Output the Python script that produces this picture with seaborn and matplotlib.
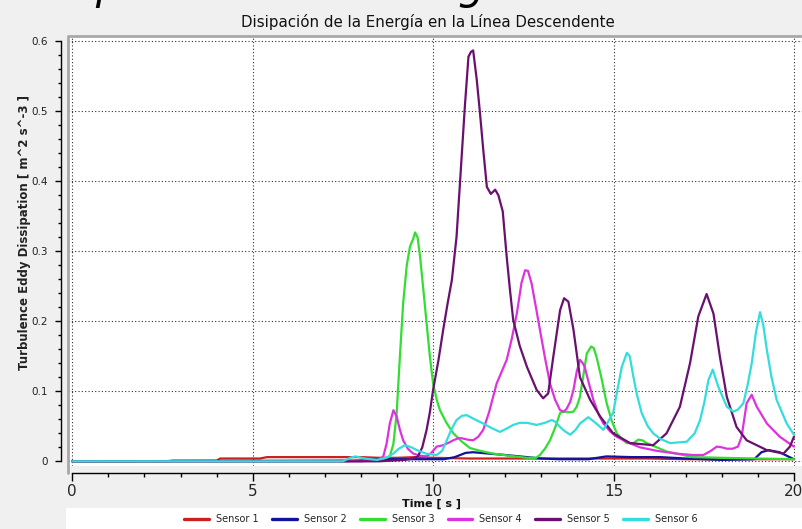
import pandas as pd
import seaborn as sns
import matplotlib.pyplot as plt
from matplotlib.lines import Line2D
from matplotlib.patches import Rectangle
from matplotlib.ticker import MultipleLocator

# values (time [s], dissipation [m^2 s^-3])
sensor_names = ["Sensor 1", "Sensor 2", "Sensor 3", "Sensor 4", "Sensor 5", "Sensor 6"]
sensor_colors = ["#cc2020", "#12129c", "#33dd33", "#dd33dd", "#6a1070", "#33dddd"]

t_s1 = [0, 2.6, 2.8, 4.0, 4.1, 5.2, 5.4, 7.0, 8.0, 8.5, 9.0, 9.5, 10.0, 11.0, 12.0,
        13.0, 14.0, 15.0, 16.0, 17.0, 18.0, 19.0, 20.0]
eps_s1 = [0, 0, 0.001, 0.001, 0.004, 0.004, 0.006, 0.006, 0.006, 0.005, 0.005, 0.006, 0.005, 0.004, 0.004,
          0.004, 0.004, 0.004, 0.004, 0.003, 0.003, 0.003, 0.003]

t_s2 = [0, 7.8, 8.5, 9.5, 10.3, 10.6, 10.9, 11.1, 12.0, 13.0, 13.5, 14.3, 14.8, 15.5, 16.3,
        17.0, 18.0, 18.9, 19.1, 19.3, 19.6, 19.8, 20.0]
eps_s2 = [0, 0.001, 0.003, 0.003, 0.003, 0.006, 0.012, 0.013, 0.009, 0.004, 0.003, 0.003, 0.007, 0.006, 0.006,
          0.004, 0.002, 0.003, 0.013, 0.016, 0.013, 0.008, 0.003]

t_s3 = [0, 7.5, 8.5, 8.8, 8.9, 8.99, 9.08, 9.17, 9.27, 9.36, 9.45, 9.5, 9.57, 9.64, 9.73,
        9.82, 9.91, 10.0, 10.1, 10.19, 10.37, 10.56, 10.8, 11.02, 11.3, 11.67, 12.1, 12.6, 12.85, 12.96,
        13.1, 13.24, 13.38, 13.52, 13.61, 13.75, 13.89, 13.98, 14.07, 14.17, 14.26, 14.38, 14.45, 14.53, 14.67,
        14.81, 14.95, 15.09, 15.23, 15.37, 15.55, 15.69, 15.8, 15.92, 16.2, 16.47, 17.2, 18.0, 19.0, 20.0]
eps_s3 = [0, 0, 0.002, 0.007, 0.025, 0.069, 0.15, 0.226, 0.28, 0.307, 0.318, 0.327, 0.32, 0.292, 0.245,
          0.197, 0.15, 0.111, 0.088, 0.073, 0.055, 0.04, 0.028, 0.019, 0.015, 0.011, 0.008, 0.005, 0.005, 0.009,
          0.018, 0.03, 0.048, 0.069, 0.071, 0.07, 0.071, 0.078, 0.092, 0.125, 0.154, 0.164, 0.162, 0.149, 0.118,
          0.083, 0.058, 0.04, 0.032, 0.026, 0.026, 0.031, 0.03, 0.026, 0.02, 0.014, 0.006, 0.005, 0.004, 0.003]

t_s4 = [0, 8.0, 8.5, 8.62, 8.71, 8.8, 8.9, 8.99, 9.08, 9.17, 9.3, 9.45, 9.65, 9.82, 9.95,
        10.1, 10.28, 10.45, 10.56, 10.7, 10.79, 10.95, 11.11, 11.25, 11.39, 11.55, 11.76, 11.9, 12.04, 12.18,
        12.32, 12.45, 12.55, 12.63, 12.73, 12.85, 12.96, 13.1, 13.24, 13.38, 13.52, 13.62, 13.7, 13.8, 13.89,
        13.98, 14.07, 14.15, 14.2, 14.3, 14.44, 14.58, 14.72, 14.9, 15.09, 15.4, 15.73, 16.2, 16.75, 17.2,
        17.49, 17.7, 17.86, 18.0, 18.14, 18.3, 18.45, 18.55, 18.69, 18.83, 18.97, 19.25, 19.61, 20.0]
eps_s4 = [0, 0, 0.002, 0.007, 0.025, 0.054, 0.073, 0.064, 0.045, 0.030, 0.018, 0.011, 0.008, 0.007, 0.012,
          0.021, 0.023, 0.027, 0.030, 0.033, 0.033, 0.031, 0.030, 0.035, 0.045, 0.07, 0.111, 0.128, 0.145, 0.175,
          0.211, 0.255, 0.273, 0.272, 0.254, 0.22, 0.188, 0.148, 0.111, 0.088, 0.073, 0.071, 0.075, 0.085, 0.102,
          0.128, 0.145, 0.14, 0.135, 0.115, 0.088, 0.068, 0.054, 0.043, 0.035, 0.027, 0.02, 0.015, 0.011, 0.009,
          0.009, 0.015, 0.021, 0.02, 0.018, 0.018, 0.021, 0.035, 0.083, 0.095, 0.078, 0.054, 0.035, 0.021]

t_s5 = [0, 8.5, 9.2, 9.45, 9.58, 9.7, 9.82, 9.91, 10.0, 10.15, 10.28, 10.4, 10.52, 10.65, 10.75,
        10.88, 10.98, 11.05, 11.11, 11.21, 11.3, 11.39, 11.49, 11.6, 11.72, 11.81, 11.93, 12.04, 12.13, 12.22,
        12.4, 12.6, 12.87, 13.05, 13.19, 13.33, 13.52, 13.63, 13.75, 13.89, 14.07, 14.35, 14.63, 14.99, 15.46,
        16.1, 16.47, 16.84, 17.12, 17.35, 17.58, 17.77, 17.95, 18.14, 18.41, 18.69, 19.25, 19.71, 19.89, 20.0]
eps_s5 = [0, 0, 0.002, 0.004, 0.007, 0.02, 0.045, 0.07, 0.102, 0.145, 0.188, 0.225, 0.259, 0.321, 0.402,
          0.507, 0.578, 0.585, 0.587, 0.545, 0.497, 0.445, 0.392, 0.382, 0.388, 0.38, 0.357, 0.292, 0.245, 0.202,
          0.165, 0.135, 0.102, 0.09, 0.097, 0.149, 0.216, 0.233, 0.228, 0.188, 0.12, 0.088, 0.064, 0.04, 0.026,
          0.023, 0.04, 0.078, 0.14, 0.207, 0.239, 0.211, 0.149, 0.092, 0.049, 0.03, 0.016, 0.011, 0.021, 0.035]

t_s6 = [0, 7.5, 7.7, 7.85, 8.1, 8.44, 8.7, 8.9, 9.05, 9.22, 9.4, 9.55, 9.8, 10.1, 10.25,
        10.38, 10.5, 10.65, 10.8, 10.93, 11.15, 11.39, 11.6, 11.85, 12.05, 12.22, 12.4, 12.6, 12.87, 13.1,
        13.29, 13.4, 13.52, 13.65, 13.8, 13.95, 14.07, 14.3, 14.5, 14.72, 14.99, 15.1, 15.23, 15.37, 15.45,
        15.55, 15.65, 15.78, 15.95, 16.1, 16.3, 16.57, 17.03, 17.25, 17.4, 17.52, 17.63, 17.75, 17.9, 18.14,
        18.32, 18.45, 18.6, 18.72, 18.83, 18.95, 19.06, 19.15, 19.25, 19.38, 19.52, 19.8, 20.0]
eps_s6 = [0, 0, 0.005, 0.007, 0.004, 0.002, 0.005, 0.011, 0.018, 0.023, 0.02, 0.016, 0.011, 0.009, 0.015,
          0.03, 0.045, 0.059, 0.065, 0.066, 0.06, 0.054, 0.048, 0.042, 0.047, 0.052, 0.055, 0.055, 0.052, 0.055,
          0.059, 0.056, 0.049, 0.043, 0.038, 0.045, 0.054, 0.063, 0.055, 0.045, 0.069, 0.1, 0.135, 0.155, 0.15,
          0.121, 0.095, 0.069, 0.05, 0.04, 0.032, 0.026, 0.028, 0.04, 0.059, 0.085, 0.116, 0.131, 0.107, 0.078,
          0.071, 0.074, 0.083, 0.11, 0.14, 0.185, 0.213, 0.195, 0.159, 0.12, 0.088, 0.054, 0.038]

x_ticks = [0, 5, 10, 15, 20]
x_tick_labels = ["0", "5", "10", "15", "20"]
y_ticks = [0, 0.1, 0.2, 0.3, 0.4, 0.5, 0.6]
y_tick_labels = ["0", "0.1", "0.2", "0.3", "0.4", "0.5", "0.6"]

times = [t_s1, t_s2, t_s3, t_s4, t_s5, t_s6]
values = [eps_s1, eps_s2, eps_s3, eps_s4, eps_s5, eps_s6]
df = pd.concat([pd.DataFrame({"Time": t, "Eps": e, "Sensor": n})
                for n, t, e in zip(sensor_names, times, values)], ignore_index=True)

sns.set_style("white")
plt.rcParams["font.family"] = ["DejaVu Sans"]
narrow = ["Liberation Sans Narrow", "DejaVu Sans"]

W, H = 802, 529
fig = plt.figure(figsize=(W / 100, H / 100), dpi=100, facecolor="#f0f0f0")
ax = fig.add_axes([68 / W, (H - 466) / H, (W - 68) / W, (466 - 35.5) / H])
ax.set_facecolor("white")

sns.lineplot(data=df, x="Time", y="Eps", hue="Sensor", palette=dict(zip(sensor_names, sensor_colors)),
             estimator=None, sort=False, linewidth=1.6, legend=False, ax=ax)

ax.set_xlim(-0.119, 20.224)
ax.set_ylim(-0.0067, 0.6083)

# detached axis lines like the original tool
for side in ["top", "right"]:
    ax.spines[side].set_visible(False)
ax.spines["left"].set_position(("outward", 5))
ax.spines["left"].set_bounds(0, 0.6)
ax.spines["bottom"].set_position(("outward", 5))
ax.spines["bottom"].set_bounds(0, 20)
for side in ["left", "bottom"]:
    ax.spines[side].set_color("black")
    ax.spines[side].set_linewidth(1)

ax.set_xticks(x_ticks)
ax.set_xticklabels(x_tick_labels, fontfamily=narrow, fontsize=11)
ax.set_yticks(y_ticks)
ax.set_yticklabels(y_tick_labels, fontsize=7.5, color="#222222")
ax.xaxis.set_minor_locator(MultipleLocator(1))
ax.yaxis.set_minor_locator(MultipleLocator(0.02))
ax.tick_params(axis="x", which="major", direction="out", length=5.8, width=1, color="black", pad=2, bottom=True)
ax.tick_params(axis="x", which="minor", direction="out", length=2.6, width=1, color="black", bottom=True)
ax.tick_params(axis="y", which="major", direction="out", length=4.3, width=1, color="black", pad=5, left=True)
ax.tick_params(axis="y", which="minor", direction="out", length=2.2, width=1, color="black", left=True)

ax.grid(True, which="major", linestyle=(0, (1, 2)), color="#303030", linewidth=0.8)
ax.set_axisbelow(True)
ax.set_xlabel("")
ax.set_ylabel("")

# grey frame on the left and top of the plotting area
ax.add_line(Line2D([0, 0, 1], [-0.016, 1, 1], transform=ax.transAxes, color="#a8a8a8",
                   linewidth=2, clip_on=False))

# clipped heading from the page above the chart
fig.text(19 / W, 1 + 1 / H, "Disipación de la Energía", fontsize=30, style="italic",
         ha="left", va="baseline", color="black")

fig.text(428 / W, 1 - 27 / H, "Disipación de la Energía en la Línea Descendente",
         fontsize=10.8, ha="center", va="baseline", color="#111111")
fig.text(25 / W, 1 - 232 / H, "Turbulence Eddy Dissipation [ m^2 s^-3 ]", rotation=90,
         fontsize=8.5, fontweight="bold", ha="center", va="center", color="#222222")
fig.text(431 / W, 1 - 504 / H, "Time [ s ]", fontsize=8, fontweight="bold",
         ha="center", va="center", color="#111111")

# white legend strip
fig.add_artist(Rectangle((66 / W, 0), (W - 66) / W, 21 / H, transform=fig.transFigure,
                         facecolor="white", edgecolor="none", zorder=0))
handles = [Line2D([], [], color=c, linewidth=2.4) for c in sensor_colors]
fig.legend(handles, sensor_names, loc="center", bbox_to_anchor=(441 / W, 1 - 519 / H), ncol=6,
           frameon=False, fontsize=7, handlelength=2.57, handletextpad=0.72, columnspacing=1.34,
           borderpad=0, borderaxespad=0)

fig.savefig("out.png", dpi=100, facecolor=fig.get_facecolor())
